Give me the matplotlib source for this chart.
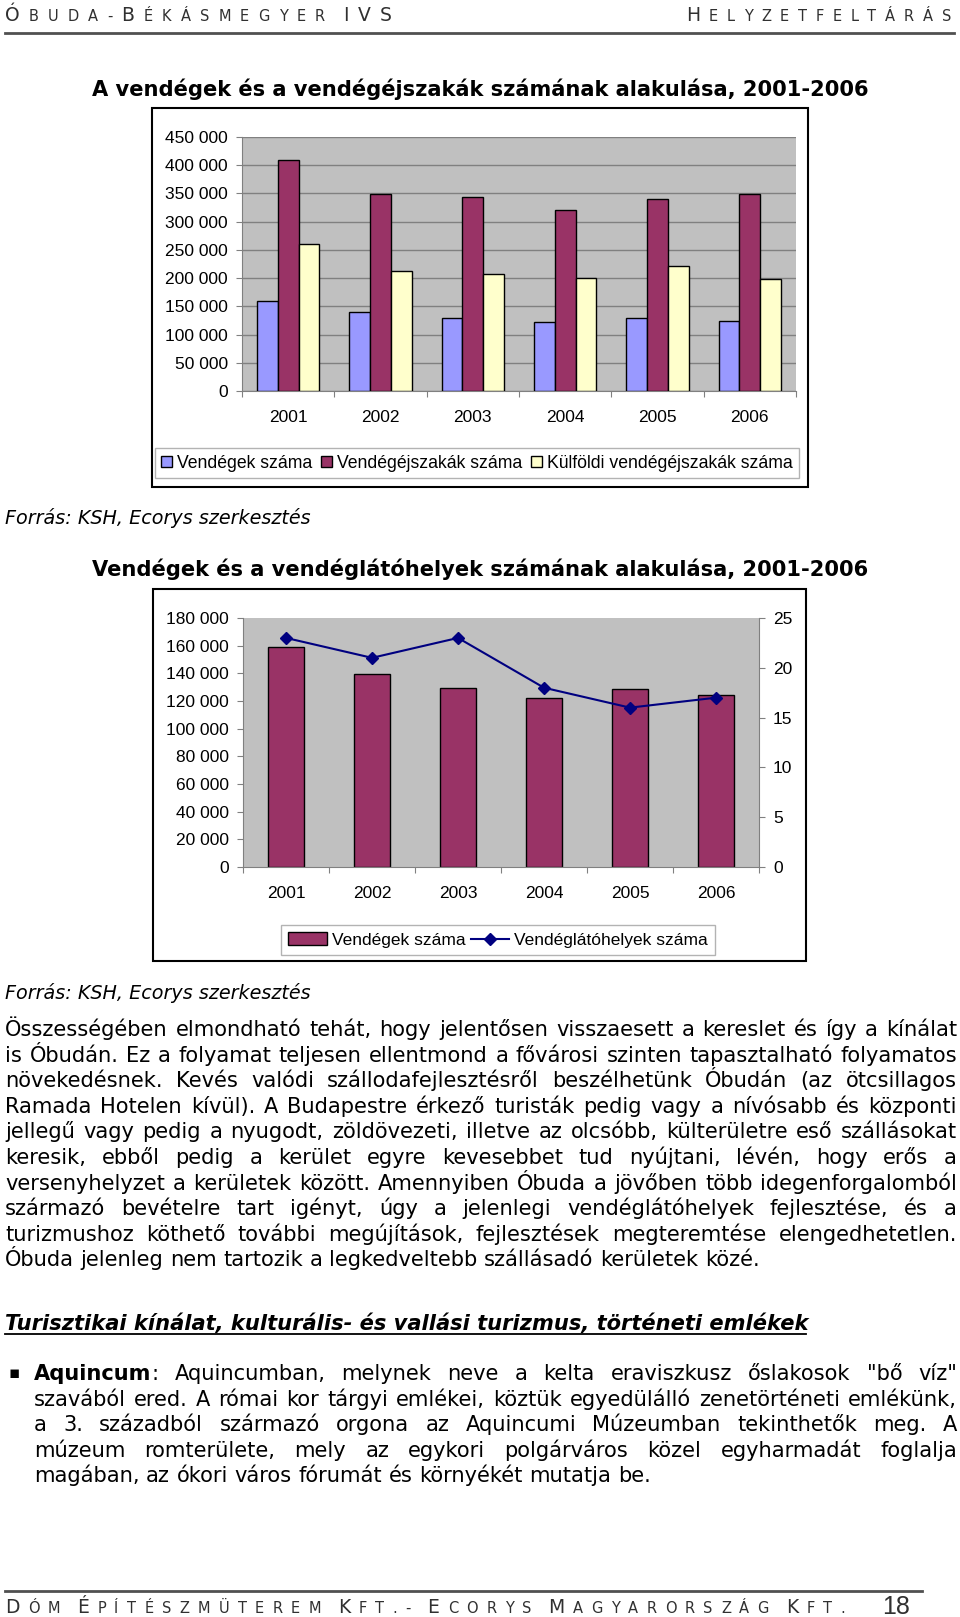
import re
import numpy as np
import matplotlib
matplotlib.use("Agg")
import matplotlib.pyplot as plt
from matplotlib.patches import Rectangle, Patch
from matplotlib.lines import Line2D
from matplotlib.ticker import FuncFormatter

W, H = 960, 1617

# ---- Data ----
years = ["2001", "2002", "2003", "2004", "2005", "2006"]
vendegek = [159000, 139500, 129500, 122000, 129000, 124500]
vendegejszakak = [410000, 349000, 344500, 320000, 339500, 349000]
kulfoldi_ejszakak = [261000, 213000, 208000, 200500, 222000, 198000]
vendeglatohelyek = [23, 21, 23, 18, 16, 17]

series1_labels = ["Vendégek száma", "Vendégéjszakák száma", "Külföldi vendégéjszakák száma"]
series1_colors = ["#9999FF", "#993366", "#FFFFCC"]

title1 = "A vendégek és a vendégéjszakák számának alakulása, 2001-2006"
title2 = "Vendégek és a vendéglátóhelyek számának alakulása, 2001-2006"
source = "Forrás: KSH, Ecorys szerkesztés"
heading = "Turisztikai kínálat, kulturális- és vallási turizmus, történeti emlékek"

para = [
    "Összességében elmondható tehát, hogy jelentősen visszaesett a kereslet és így a kínálat",
    "is Óbudán. Ez a folyamat teljesen ellentmond a fővárosi szinten tapasztalható folyamatos",
    "növekedésnek. Kevés valódi szállodafejlesztésről beszélhetünk Óbudán (az ötcsillagos",
    "Ramada Hotelen kívül). A Budapestre érkező turisták pedig vagy a nívósabb és központi",
    "jellegű vagy pedig a nyugodt, zöldövezeti, illetve az olcsóbb, külterületre eső szállásokat",
    "keresik, ebből pedig a kerület egyre kevesebbet tud nyújtani, lévén, hogy erős a",
    "versenyhelyzet a kerületek között. Amennyiben Óbuda a jövőben több idegenforgalomból",
    "származó bevételre tart igényt, úgy a jelenlegi vendéglátóhelyek fejlesztése, és a",
    "turizmushoz köthető további megújítások, fejlesztések megteremtése elengedhetetlen.",
    "Óbuda jelenleg nem tartozik a legkedveltebb szállásadó kerületek közé.",
]

bullet = [
    '*Aquincum*: Aquincumban, melynek neve a kelta eraviszkusz őslakosok "bő víz"',
    "szavából ered. A római kor tárgyi emlékei, köztük egyedülálló zenetörténeti emlékünk,",
    "a 3. századból származó orgona az Aquincumi Múzeumban tekinthetők meg. A",
    "múzeum romterülete, mely az egykori polgárváros közel egyharmadát foglalja",
    "magában, az ókori város fórumát és környékét mutatja be.",
]

BODY = "DejaVu Sans"
plt.rcParams["font.family"] = "Liberation Sans"

fig = plt.figure(figsize=(W / 100, H / 100), dpi=100)
renderer = fig.canvas.get_renderer()


# ---- helpers (pixel coords, y from top) ----
def fx(x):
    return x / W


def fy(y):
    return 1 - y / H


def px_axes(left, top, right, bottom):
    return fig.add_axes([fx(left), fy(bottom), (right - left) / W, (bottom - top) / H])


def width_of(s, **kw):
    t = fig.text(0, 0, s, **kw)
    w = t.get_window_extent(renderer).width
    t.remove()
    return w


def fit_size(s, target, **kw):
    return 12 * target / width_of(s, fontsize=12, **kw)


def frame(left, top, right, bottom):
    fig.add_artist(Rectangle((fx(left), fy(bottom)), (right - left) / W, (bottom - top) / H,
                             transform=fig.transFigure, fill=False, edgecolor="black", lw=1.5))


def hline(x0, x1, y, **kw):
    fig.add_artist(Line2D([fx(x0), fx(x1)], [fy(y), fy(y)], transform=fig.transFigure, **kw))


def parse_word(w):
    m = re.match(r"\*(.+)\*(.*)", w)
    if m:
        segs = [(m.group(1), "bold")]
        if m.group(2):
            segs.append((m.group(2), "normal"))
        return segs
    return [(w, "normal")]


def write_line(line, x0, x1, y, size, justify=True):
    words = [parse_word(w) for w in line.split(" ")]
    widths = [[width_of(t, fontsize=size, fontfamily=BODY, fontweight=wt) for t, wt in w] for w in words]
    total = sum(sum(ws) for ws in widths)
    space = width_of("a a", fontsize=size, fontfamily=BODY) - width_of("aa", fontsize=size, fontfamily=BODY)
    gap = (x1 - x0 - total) / (len(words) - 1) if justify and len(words) > 1 else space
    x = x0
    for w, ws in zip(words, widths):
        for (t, wt), wd in zip(w, ws):
            fig.text(fx(x), fy(y), t, fontsize=size, fontfamily=BODY, fontweight=wt, va="baseline")
            x += wd
        x += gap


def small_caps(parts, x0, x1, y, big, small, color="#303030"):
    chars = []
    for txt, is_big in parts:
        for c in txt:
            chars.append((c, big if is_big else small))
    widths = [0 if c == " " else width_of(c, fontsize=s, fontfamily=BODY) for c, s in chars]
    gap = (x1 - x0 - sum(widths)) / (len(chars) - 1)
    x = x0
    for (c, s), w in zip(chars, widths):
        if c != " ":
            fig.text(fx(x), fy(y), c, fontsize=s, fontfamily=BODY, color=color, va="baseline")
        x += w + gap


def thousands(v, pos):
    return f"{int(v):,}".replace(",", " ")


# ---- header / footer ----
small_caps([("Ó", True), ("BUDA-", False), ("B", True), ("ÉKÁSMEGYER", False), (" IVS", True)],
           5, 392, 21, 13.5, 10.5)
small_caps([("H", True), ("ELYZETFELTÁRÁS", False)], 686, 951, 21, 13.5, 10.5)
hline(5, 954, 33, lw=2, color="#505050")

hline(5, 922, 1591, lw=2, color="#505050")
small_caps([("D", True), ("ÓM ", False), ("É", True), ("PÍTÉSZMÜTEREM ", False), ("K", True),
            ("FT.- ", False), ("E", True), ("CORYS ", False), ("M", True), ("AGYARORSZÁG ", False),
            ("K", True), ("FT.", False)], 5, 845, 1613, 13.5, 10.5)
fig.text(fx(910), fy(1614), "18", fontsize=18, ha="right", va="baseline", color="#303030")

# ---- chart 1 ----
s = fit_size(title1, 775, fontfamily=BODY, fontweight="bold")
fig.text(fx(480), fy(96), title1, fontsize=s, fontfamily=BODY, fontweight="bold", ha="center", va="baseline")
frame(152, 108, 808, 487)

x = np.arange(len(years))
bw = 0.225
ax1 = px_axes(242, 137, 796, 391)
ax1.set_facecolor("#C0C0C0")
for i, (vals, col) in enumerate(zip([vendegek, vendegejszakak, kulfoldi_ejszakak], series1_colors)):
    ax1.bar(x + (i - 1) * bw, vals, bw, color=col, edgecolor="black", lw=1, zorder=3)
ax1.set_xlim(-0.5, 5.5)
ax1.set_ylim(0, 450000)
ax1.set_yticks(np.arange(0, 450001, 50000))
ax1.yaxis.set_major_formatter(FuncFormatter(thousands))
ax1.grid(axis="y", color="#808080", lw=1)
ax1.set_axisbelow(True)
ax1.set_xticks(np.arange(-0.5, 6, 1))
ax1.set_xticklabels([])
ax1.set_xticks(x, minor=True)
ax1.set_xticklabels(years, minor=True)
ax1.tick_params(axis="x", which="major", length=4, color="#808080")
ax1.tick_params(axis="x", which="minor", length=0, pad=14, labelsize=12.5)
ax1.tick_params(axis="y", length=4, pad=6, labelsize=12.5, color="#808080")
for sp in ["top", "right"]:
    ax1.spines[sp].set_visible(False)
for sp in ["left", "bottom"]:
    ax1.spines[sp].set_color("#808080")

h1 = [Patch(facecolor=c, edgecolor="black", lw=1) for c in series1_colors]
fig.legend(h1, series1_labels, loc="center", bbox_to_anchor=(fx(477), fy(463)), ncol=3, fontsize=12.7,
           frameon=True, fancybox=False, edgecolor="#A0A0A0", handlelength=0.6, handleheight=0.6,
           handletextpad=0.3, columnspacing=0.5, borderpad=0.35)

s = fit_size(source, 304, fontfamily=BODY, style="italic")
fig.text(fx(5), fy(524), source, fontsize=s, fontfamily=BODY, style="italic", va="baseline")

# ---- chart 2 ----
s = fit_size(title2, 775, fontfamily=BODY, fontweight="bold")
fig.text(fx(480), fy(576), title2, fontsize=s, fontfamily=BODY, fontweight="bold", ha="center", va="baseline")
frame(153, 589, 806, 961)

ax2 = px_axes(243, 618, 759, 867)
ax2.set_facecolor("#C0C0C0")
ax2.bar(x, vendegek, 0.42, color="#993366", edgecolor="black", lw=1)
ax2.set_xlim(-0.5, 5.5)
ax2.set_ylim(0, 180000)
ax2.set_yticks(np.arange(0, 180001, 20000))
ax2.yaxis.set_major_formatter(FuncFormatter(thousands))
ax2.set_xticks(np.arange(-0.5, 6, 1))
ax2.set_xticklabels([])
ax2.set_xticks(x, minor=True)
ax2.set_xticklabels(years, minor=True)
ax2.tick_params(axis="x", which="major", length=4, color="#808080")
ax2.tick_params(axis="x", which="minor", length=0, pad=14, labelsize=12.5)
ax2.tick_params(axis="y", length=4, pad=6, labelsize=12.5, color="#808080")
for sp in ["top", "right"]:
    ax2.spines[sp].set_visible(False)
for sp in ["left", "bottom"]:
    ax2.spines[sp].set_color("#808080")

axr = ax2.twinx()
axr.plot(x, vendeglatohelyek, color="#000080", marker="D", markersize=6, lw=1.5)
axr.set_ylim(0, 25)
axr.set_yticks(range(0, 26, 5))
axr.tick_params(axis="y", length=4, pad=6, labelsize=12.5, color="#808080")
for sp in ["top", "left", "bottom"]:
    axr.spines[sp].set_visible(False)
axr.spines["right"].set_color("#808080")

h2 = [Patch(facecolor="#993366", edgecolor="black", lw=1),
      Line2D([], [], color="#000080", marker="D", markersize=6, lw=1.5)]
fig.legend(h2, ["Vendégek száma", "Vendéglátóhelyek száma"], loc="center", bbox_to_anchor=(fx(498), fy(940)),
           ncol=2, fontsize=12.5, frameon=True, fancybox=False, edgecolor="#A0A0A0", handlelength=2.2,
           handleheight=0.7, handletextpad=0.3, columnspacing=0.3, borderpad=0.4)

s = fit_size(source, 304, fontfamily=BODY, style="italic")
fig.text(fx(5), fy(999), source, fontsize=s, fontfamily=BODY, style="italic", va="baseline")

# ---- body text ----
body = fit_size(para[-1], 753, fontfamily=BODY)
for i, line in enumerate(para):
    write_line(line, 5, 957, 1036 + i * 25.6, body, justify=i < len(para) - 1)

s = fit_size(heading, 801, fontfamily=BODY, fontweight="bold", style="italic")
fig.text(fx(5), fy(1330), heading, fontsize=s, fontfamily=BODY, fontweight="bold", style="italic", va="baseline")
hline(5, 806, 1334, lw=1.3, color="black")

fig.text(fx(8), fy(1378), "▪", fontsize=body * 0.8, fontfamily=BODY, va="baseline")
for i, line in enumerate(bullet):
    write_line(line, 34, 957, 1380 + i * 25.6, body, justify=i < len(bullet) - 1)

fig.savefig("out.png", dpi=100)
